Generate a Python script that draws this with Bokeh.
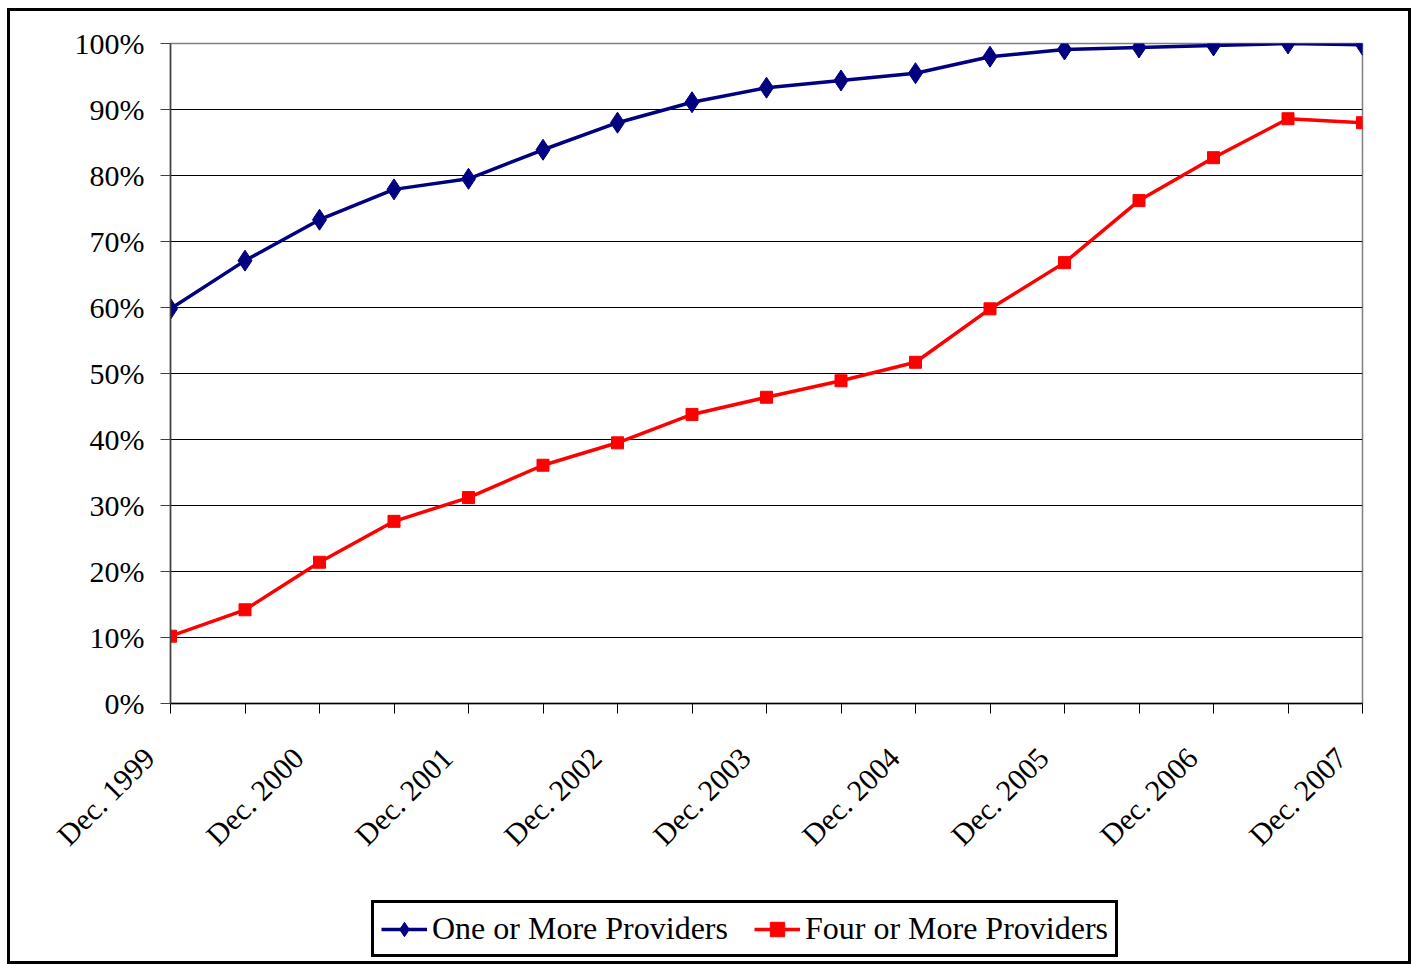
import math
from bokeh.plotting import figure
from bokeh.layouts import column
from bokeh.models import Range1d, FixedTicker, NumeralTickFormatter, Legend, LegendItem
from bokeh.embed import file_html
from bokeh.resources import INLINE

periods = ["Dec. 1999", "Jun. 2000", "Dec. 2000", "Jun. 2001", "Dec. 2001", "Jun. 2002",
           "Dec. 2002", "Jun. 2003", "Dec. 2003", "Jun. 2004", "Dec. 2004", "Jun. 2005",
           "Dec. 2005", "Jun. 2006", "Dec. 2006", "Jun. 2007", "Dec. 2007"]
one_or_more = [0.598, 0.671, 0.733, 0.779, 0.795, 0.839, 0.880, 0.911, 0.933, 0.944,
               0.955, 0.980, 0.991, 0.994, 0.997, 1.000, 0.998]
four_or_more = [0.102, 0.142, 0.214, 0.276, 0.312, 0.361, 0.395, 0.438, 0.464, 0.489,
                0.517, 0.598, 0.668, 0.762, 0.827, 0.886, 0.880]
y_ticks = [0, 0.1, 0.2, 0.3, 0.4, 0.5, 0.6, 0.7, 0.8, 0.9, 1.0]
series_names = ["One or More Providers", "Four or More Providers"]

FONT = "Liberation Serif"
BLUE = "#000080"
RED = "#FF0000"
PAD = "\u00a0" * 4  # trailing gap so the rotated label ends below-left of its tick
xs = list(range(len(periods)))

p = figure(width=1398, height=867, output_backend="svg", toolbar_location=None,
           x_range=Range1d(0, len(periods) - 1), y_range=Range1d(0, 1),
           min_border_left=160, min_border_right=46, min_border_top=32, min_border_bottom=175)
p.outline_line_color = "#808080"
p.outline_line_width = 1.5

# axes
p.xaxis.ticker = FixedTicker(ticks=xs)
p.xaxis.major_label_overrides = {i: (periods[i] + PAD if periods[i].startswith("Dec") else "") for i in xs}
p.xaxis.major_label_orientation = math.pi / 4
p.xaxis.major_label_text_font = FONT
p.xaxis.major_label_text_font_size = "30px"
p.xaxis.major_label_text_color = "black"
p.xaxis.major_tick_out = 10
p.xaxis.major_tick_in = 0
p.xaxis.minor_tick_line_color = None
p.xaxis.axis_line_color = "black"
p.xaxis.axis_line_width = 1.5
p.xaxis.major_tick_line_color = "black"
p.xaxis.major_label_standoff = 18

p.yaxis.ticker = FixedTicker(ticks=y_ticks)
p.yaxis.formatter = NumeralTickFormatter(format="0%")
p.yaxis.major_label_text_font = FONT
p.yaxis.major_label_text_font_size = "30px"
p.yaxis.major_label_text_color = "black"
p.yaxis.major_tick_out = 10
p.yaxis.major_tick_in = 0
p.yaxis.minor_tick_line_color = None
p.yaxis.axis_line_color = "#404040"
p.yaxis.axis_line_width = 1.5
p.yaxis.major_tick_line_color = "#404040"
p.yaxis.major_label_standoff = 16

p.xgrid.grid_line_color = None
p.ygrid.ticker = FixedTicker(ticks=y_ticks[1:-1])
p.ygrid.grid_line_color = "black"
p.ygrid.grid_line_width = 1

p.line(xs, one_or_more, line_color=BLUE, line_width=3.5)
p.scatter(xs, one_or_more, marker="diamond", size=21, fill_color=BLUE, line_color=BLUE)
p.line(xs, four_or_more, line_color=RED, line_width=3.5)
p.scatter(xs, four_or_more, marker="square", size=12, fill_color=RED, line_color=RED)

# legend strip: same series, drawn in a view window that shows none of the data
lf = figure(width=1398, height=83, output_backend="svg", toolbar_location=None,
            x_axis_type=None, y_axis_type=None, min_border=0,
            x_range=Range1d(1000, 1001), y_range=Range1d(1000, 1001))
lf.outline_line_color = None
lf.grid.visible = False
l1 = lf.line(xs, one_or_more, line_color=BLUE, line_width=3.5)
m1 = lf.scatter(xs, one_or_more, marker="diamond", size=16, fill_color=BLUE, line_color=BLUE)
l2 = lf.line(xs, four_or_more, line_color=RED, line_width=3.5)
m2 = lf.scatter(xs, four_or_more, marker="square", size=11, fill_color=RED, line_color=RED)
legend = Legend(items=[LegendItem(label=series_names[0], renderers=[l1, m1]),
                       LegendItem(label=series_names[1], renderers=[l2, m2])],
                orientation="horizontal", location=(201, 4),
                label_text_font=FONT, label_text_font_size="32px", label_text_color="black",
                border_line_color="black", border_line_width=3, border_line_alpha=1.0,
                glyph_width=46, glyph_height=36, label_standoff=5, spacing=26,
                padding=7, margin=0, label_height=36)
lf.add_layout(legend, "center")

layout = column(p, lf, spacing=0)
layout.styles = {"border": "3px solid black", "margin-left": "7px", "margin-top": "8px"}

open("out.html", "w").write(file_html(layout, INLINE))
